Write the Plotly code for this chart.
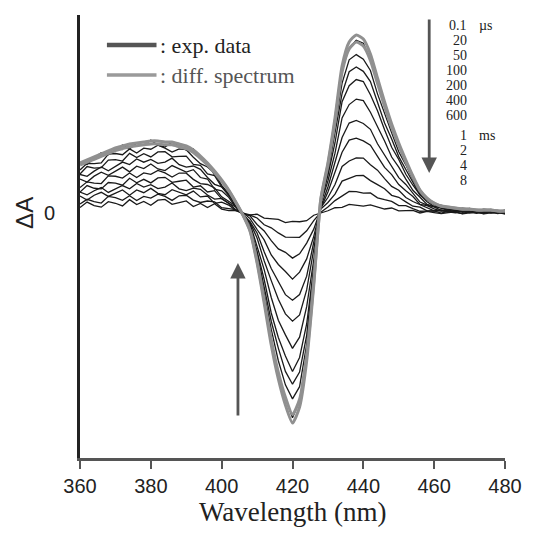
import numpy as np
import plotly.graph_objects as go

# wavelength grid (nm), 2 nm steps
WAVELENGTH = list(range(360, 482, 2))

# spectral components of the largest (earliest) transient, in mΔA units
# broad positive band below the first isosbestic point (~405 nm)
HUMP = [50, 53, 56, 59, 62, 65, 67, 69, 70, 71, 72, 72, 71, 71, 69, 67, 63, 57,
        50, 42, 33, 23, 11, 0] + [0] * 37
# bleach (~420 nm) and induced absorption (~437 nm)
BAND = [0] * 22 + [0, -2, -18, -50, -90, -132, -166, -192, -210, -194, -148,
                   -72, 14, 50, 95, 147, 171, 178, 174, 159, 135, 111, 89, 70,
                   53, 37, 23, 15, 10, 7, 6, 5, 4, 4, 3, 3, 3, 2, 2]

# decay of each component for the time series (0.1 us ... 8 ms)
BAND_AMPS = [0.97, 0.89, 0.82, 0.75, 0.64, 0.52, 0.42, 0.31, 0.21, 0.12, 0.045]
HUMP_AMPS = [0.97, 0.90, 0.82, 0.73, 0.64, 0.55, 0.46, 0.38, 0.30, 0.22, 0.15]
DIFF_AMPS = [1.0, 0.96]

JITTER_A = [2, -3, 1, 3, -2, 0, 3, -3, 2, -1, 3, -2, -3, 2, 0, -2, 3, -1, 2, -3, 1,
            1, -1, 0, 1, -1, 1, 0, -1, 1, -1, 0, 1, -1, 1, 0, -1, 1, -1, 0, 1,
            -1, 0, 1, -1, 1, 0, -1, 1, -1, 0, 1, 0, -1, 1, 0, -1, 1, 0, -1, 1]
JITTER_B = [-2, 2, -1, -3, 3, 1, -2, 2, -3, 1, -1, 3, 1, -3, 2, 3, -1, -2, 1, 2, -2,
            -1, 1, -1, 0, 1, -1, 1, 0, -1, 1, -1, 0, 1, -1, 0, 1, -1, 1, 0, -1,
            1, -1, 0, 1, -1, 1, 0, -1, 0, 1, -1, 1, 0, -1, 1, 0, -1, 1, 0, -1]

TIME_LABELS = ['0.1', '20', '50', '100', '200', '400', '600', '1', '2', '4', '8']
UNIT_LABELS = {0: 'µs', 7: 'ms'}

X_TICKS = [360, 380, 400, 420, 440, 460, 480]

SERIF = 'Times New Roman, DejaVu Serif'
SANS = 'Liberation Sans, Arial'

hump = np.array(HUMP, dtype=float)
band = np.array(BAND, dtype=float)
jit = [np.array(JITTER_A), np.array(JITTER_B)]

fig = go.Figure()

# experimental traces (black, thin)
for i, (ab, ah) in enumerate(zip(BAND_AMPS, HUMP_AMPS)):
    noise = jit[i % 2] * (1 if (i // 2) % 2 == 0 else -1)
    fig.add_trace(go.Scatter(
        x=WAVELENGTH, y=ah * hump + ab * band + noise, mode='lines',
        line=dict(color='#1a1a1a', width=1.3),
        name=TIME_LABELS[i], showlegend=False))

# smooth difference spectra (gray, thick) on the outer envelope
for a in DIFF_AMPS:
    fig.add_trace(go.Scatter(
        x=WAVELENGTH, y=a * hump + a * band, mode='lines',
        line=dict(color='#909090', width=3, shape='spline', smoothing=0.6),
        showlegend=False, hoverinfo='skip'))

# legend drawn by hand
fig.add_shape(type='line', x0=367.6, x1=381.6, y0=168, y1=168,
              line=dict(color='#555555', width=4.5))
fig.add_shape(type='line', x0=367.6, x1=381.6, y0=138, y1=138,
              line=dict(color='#9a9a9a', width=3.5))
fig.add_annotation(x=382, y=168, text=': exp. data', showarrow=False,
                   xanchor='left', font=dict(family=SERIF, size=22, color='#222'))
fig.add_annotation(x=382, y=138, text=': diff. spectrum', showarrow=False,
                   xanchor='left', font=dict(family=SERIF, size=22, color='#555'))

# time labels next to the decay arrow
y_row = 188
for i, lab in enumerate(TIME_LABELS):
    if i == 7:
        y_row -= 5
    fig.add_annotation(x=469.9, y=y_row, text=lab, showarrow=False,
                       xanchor='right', font=dict(family=SERIF, size=14, color='#222'))
    if i in UNIT_LABELS:
        fig.add_annotation(x=472.0, y=y_row, text=UNIT_LABELS[i], showarrow=False,
                           xanchor='left', font=dict(family=SERIF, size=14, color='#222'))
    y_row -= 15

# arrows showing the direction of the decay
fig.add_annotation(x=458.6, y=40, ax=458.6, ay=195, axref='x', ayref='y',
                   showarrow=True, arrowhead=2, arrowsize=1.1, arrowwidth=2.8,
                   arrowcolor='#555555', text='')
fig.add_annotation(x=404.6, y=-50, ax=404.6, ay=-204, axref='x', ayref='y',
                   showarrow=True, arrowhead=2, arrowsize=1.1, arrowwidth=2.8,
                   arrowcolor='#555555', text='')

# axis titles
fig.add_annotation(xref='paper', yref='paper', x=0.5, y=-0.122,
                   text='Wavelength (nm)', showarrow=False, yanchor='middle',
                   xanchor='center', font=dict(family=SERIF, size=27, color='#222'))
fig.add_annotation(xref='paper', yref='y', x=-0.132, y=0, text='ΔA',
                   showarrow=False, textangle=-90, xanchor='center', yanchor='middle',
                   font=dict(family=SANS, size=24, color='#222'))

# page has an 8 px body margin, so the figure is a little smaller than the window
fig.update_layout(
    width=528, height=526,
    margin=dict(l=72, r=31, t=7, b=76),
    plot_bgcolor='white', paper_bgcolor='white',
    xaxis=dict(range=[360, 480], tickvals=X_TICKS, ticks='outside', ticklen=8,
               tickwidth=2, tickcolor='#555', showline=True, linecolor='#555',
               linewidth=3, showgrid=False, zeroline=False,
               tickfont=dict(family=SANS, size=20, color='#222')),
    yaxis=dict(range=[-245, 198], tickvals=[0], ticktext=['0'], ticks='',
               showline=True, linecolor='#222', linewidth=3, showgrid=False,
               zeroline=False, ticklabelstandoff=18,
               tickfont=dict(family=SANS, size=20, color='#222')),
)

fig.write_html('out.html')
